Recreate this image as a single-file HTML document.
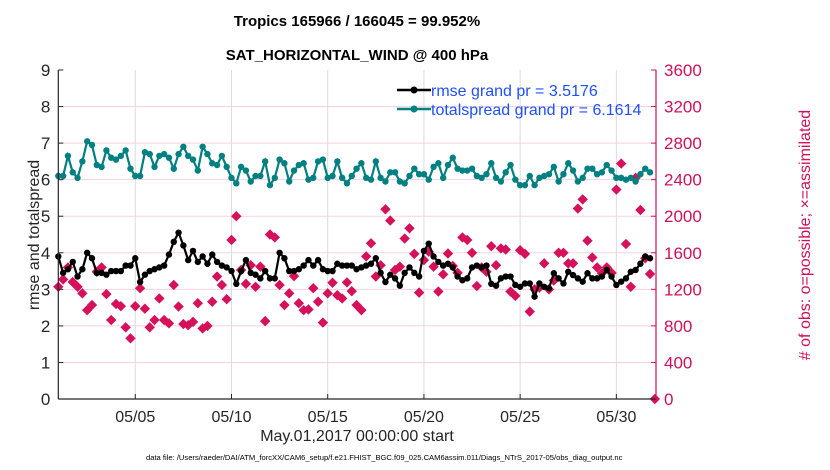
<!DOCTYPE html>
<html><head><meta charset="utf-8"><style>
body{margin:0;background:#fff;}
svg{display:block;font-family:"Liberation Sans",sans-serif;}
</style></head><body>
<svg id="chart" width="830" height="470" viewBox="0 0 830 470">
<text x="357" y="26" text-anchor="middle" font-size="15" font-weight="bold" fill="#000">Tropics 165966 / 166045 = 99.952%</text>
<text x="357" y="60" text-anchor="middle" font-size="15" font-weight="bold" fill="#000">SAT_HORIZONTAL_WIND @ 400 hPa</text>
<g id="grid"></g>
<g id="series"></g>
<g id="axes"></g>
<text transform="translate(39,235) rotate(-90)" text-anchor="middle" font-size="16" fill="#262626">rmse and totalspread</text>
<text transform="translate(810,235) rotate(-90)" text-anchor="middle" font-size="16" fill="#d0105a"># of obs: o=possible; ×=assimilated</text>
<text x="357" y="441" text-anchor="middle" font-size="16" fill="#262626">May.01,2017 00:00:00 start</text>
<text x="146" y="460" font-size="7.6" fill="#000">data file: /Users/raeder/DAI/ATM_forcXX/CAM6_setup/f.e21.FHIST_BGC.f09_025.CAM6assim.011/Diags_NTrS_2017-05/obs_diag_output.nc</text>
<g>
<line x1="397" y1="90" x2="431" y2="90" stroke="#000" stroke-width="2.5"/>
<circle cx="414" cy="90" r="3.5" fill="#000"/>
<text x="431" y="96" font-size="16" fill="#1f4fff">rmse grand pr = 3.5176</text>
<line x1="397" y1="109" x2="431" y2="109" stroke="#008080" stroke-width="2.5"/>
<circle cx="414" cy="109" r="3.5" fill="#008080"/>
<text x="431" y="115" font-size="16" fill="#1f4fff">totalspread grand pr = 6.1614</text>
</g>
</svg>
<script>
const spread=[6.1,6.1,6.65,6.2,6.05,6.5,7.05,6.95,6.4,6.35,6.8,6.6,6.55,6.65,6.8,6.3,6.1,6.1,6.75,6.7,6.35,6.65,6.7,6.6,6.3,6.7,6.9,6.65,6.55,6.25,6.9,6.7,6.45,6.4,6.65,6.35,6.05,5.9,6.35,6.25,5.95,6.1,6.1,6.5,5.85,6.05,6.55,6.45,5.95,6.25,6.4,6.45,6.0,6.05,6.5,6.55,6.05,6.1,6.5,6.05,5.9,6.1,6.3,
6.45,6.05,6.0,6.5,6.05,5.95,6.2,6.2,5.95,5.9,6.1,6.3,6.15,6.15,6.0,6.35,6.45,6.05,6.4,6.6,6.3,6.25,6.25,6.3,6.1,6.05,6.15,6.45,6.05,5.95,6.2,6.4,6.0,5.85,5.85,6.1,5.85,6.05,6.1,6.15,6.35,5.95,6.15,6.45,6.25,5.95,6.05,6.3,6.3,6.15,6.2,6.4,6.25,6.05,6.05,6.0,6.05,5.95,6.15,6.3,6.2];
const rmse=[3.9,3.45,3.55,3.75,3.35,3.55,4.0,3.85,3.45,3.45,3.4,3.5,3.5,3.5,3.65,3.65,3.85,3.2,3.4,3.5,3.55,3.6,3.65,3.95,4.3,4.55,4.2,3.8,4.05,3.75,3.9,3.7,
3.95,3.75,3.65,3.6,3.5,3.15,3.5,3.8,3.45,3.4,3.3,3.5,3.3,3.3,4.0,3.85,3.5,3.5,3.55,3.65,3.8,3.65,3.8,3.55,3.5,3.5,3.7,3.65,3.65,3.65,3.55,
3.6,3.65,3.7,3.85,3.45,3.2,3.4,3.3,3.1,3.45,3.6,3.45,3.35,4.05,4.25,3.9,3.75,3.65,3.7,3.6,3.35,3.25,3.3,3.6,3.65,3.6,3.65,3.15,3.1,3.3,
3.35,3.35,3.12,3.07,3.16,3.16,2.8,3.16,3.07,3.03,3.44,3.3,3.16,3.48,3.39,3.3,3.21,3.44,3.3,3.3,3.35,3.53,3.35,3.12,3.21,3.3,3.48,3.53,3.7,3.9,3.85];
const obsCount=[1228,1308,1440,1280,1228,1156,972,1028,1392,1440,1148,864,1040,1016,784,664,1016,1212,988,784,864,1100,864,828,1248,1012,820,808,844,1048,772,800,1064,1340,1248,1092,1740,2000,1412,1260,1464,1228,1448,852,1800,1768,1248,1028,1156,1344,1048,972,980,1212,1064,836,1156,1272,1136,1100,1276,1180,1028,972,1560,1704,1340,1464,2076,1952,1412,1448,1756,1868,1588,1164,1520,1612,1448,1176,1364,1592,1456,1380,1768,1740,1600,1236,1440,1392,1672,1464,1648,1636,1176,1128,1628,1588,956,1200,1220,1484,1200,1296,1600,1600,1484,1484,2084,2184,1732,1548,1440,1376,1440,1380,2292,2576,1696,1228,2420,2068,1540,1368,0];
const leftTicks=[0,1,2,3,4,5,6,7,8,9];
const rightTicks=[0,400,800,1200,1600,2000,2400,2800,3200,3600];
const dayTicks=[5,10,15,20,25,30];
const dayLabels=["05/05","05/10","05/15","05/20","05/25","05/30"];

const L=58.3,R=656,T=70,B=399,DAYS=31.06;
const xDay=d=>L+(d-1)*(R-L)/DAYS;
const xIdx=i=>xDay(1+i*0.25);
const yL=v=>B-v*(B-T)/9;
const yR=v=>B-v*(B-T)/3600;
const NS="http://www.w3.org/2000/svg";
function mk(tag,attrs,parent){const e=document.createElementNS(NS,tag);for(const k in attrs)e.setAttribute(k,attrs[k]);parent.appendChild(e);return e;}
const grid=document.getElementById('grid'),ser=document.getElementById('series'),ax=document.getElementById('axes');

leftTicks.forEach(v=>{if(v>0&&v<9){const g=mk('line',{x1:L,x2:R,y1:yL(v),y2:yL(v),stroke:'#f5d3df','stroke-width':1},grid);

}
const t=mk('text',{x:L-8,y:yL(v)+6,'text-anchor':'end','font-size':17,fill:'#262626'},ax);t.textContent=v;


const tk=mk('line',{x1:L,x2:L+5,y1:yL(v),y2:yL(v),stroke:'#262626'},ax);

});
rightTicks.forEach(v=>{const t=mk('text',{x:R+8,y:yR(v)+6,'font-size':17,fill:'#d0105a'},ax);t.textContent=v;


const tk=mk('line',{x1:R-5,x2:R,y1:yR(v),y2:yR(v),stroke:'#d0105a'},ax);

});
dayTicks.forEach((d,k)=>{const x=xDay(d);const g=mk('line',{x1:x,x2:x,y1:T,y2:B,stroke:'#dcdcdc','stroke-width':1},grid);


const tk=mk('line',{x1:x,x2:x,y1:B,y2:B-5,stroke:'#262626'},ax);


const t=mk('text',{x:x,y:B+23,'text-anchor':'middle','font-size':16,fill:'#262626'},ax);t.textContent=dayLabels[k];

});
const la=mk('line',{x1:L,x2:L,y1:T,y2:B,stroke:'#262626','stroke-width':1.2},ax);


const ba=mk('line',{x1:L,x2:R,y1:B,y2:B,stroke:'#262626','stroke-width':1.2},ax);


const ra=mk('line',{x1:R,x2:R,y1:T,y2:B,stroke:'#d0105a','stroke-width':1.2},ax);



function line(arr,color,name){
 const p=mk('polyline',{points:arr.map((v,i)=>xIdx(i)+','+yL(v)).join(' '),fill:'none',stroke:color,'stroke-width':2.2},ser);
 
 
 arr.forEach((v,i)=>{const c=mk('circle',{cx:xIdx(i),cy:yL(v),r:3.2,fill:color},ser);
 
 });
}
obsCount.forEach((v,i)=>{const x=xIdx(i),y=yR(v),s=5.2;
 const d=mk('polygon',{points:`${x},${y-s} ${x+s},${y} ${x},${y+s} ${x-s},${y}`,fill:'#d6115b'},ser);
 
 });
line(spread,'#008080','totalspread');
line(rmse,'#000000','rmse');
</script>
</body></html>
